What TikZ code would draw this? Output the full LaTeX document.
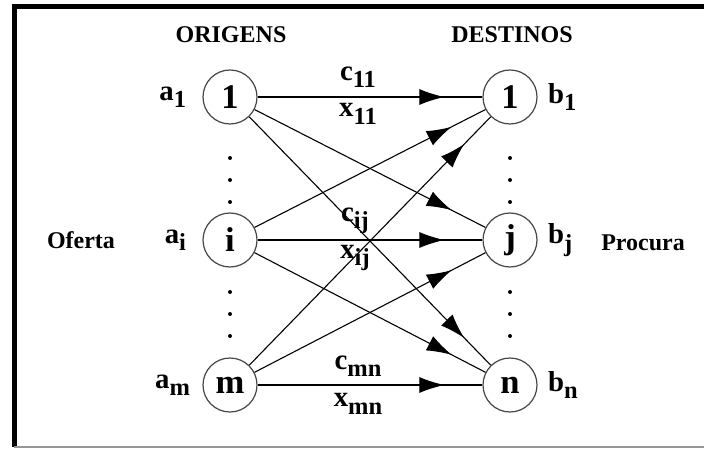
\documentclass[tikz,border=0pt]{standalone}
\usepackage{fontspec}
\setmainfont{Liberation Serif}
\usetikzlibrary{arrows.meta,decorations.markings,positioning}
\definecolor{FrameGray}{RGB}{150,150,150}
\definecolor{RingGray}{RGB}{70,70,70}
\newcommand{\sub}[2]{#1\raisebox{-0.55ex}{\scalebox{0.85}{#2}}}

\begin{document}
\begin{tikzpicture}[x=0.5pt,y=-0.5pt,
  place/.style={circle,draw=RingGray,line width=0.6pt,minimum size=27pt,
    inner sep=0pt,font=\bfseries\LARGE},
  lbl/.style={font=\bfseries\Large,inner sep=1pt},
  head/.style={font=\bfseries\large},
  flow/.style={line width=0.55pt,postaction={decorate},
    decoration={markings,mark=at position -19pt with
      {\arrow{Latex[length=12.5pt,width=8pt]}}}}]
  \useasboundingbox (0,0) rectangle (704,448);
  % frame
  \draw[line width=2.5pt] (704,7)--(14.5,7)--(14.5,447);
  \draw[FrameGray,line width=1pt] (14,447)--(704,447);
  % headings
  \node[head] (orig) at (231,35) {ORIGENS};
  \node[head] (dest) at (512,35) {DESTINOS};
  \node[head] (ofer) at (81,240) {Oferta};
  \node[head] (proc) at (643,243) {Procura};
  % origins and destinations
  \node[place] (o1) at (230,97) {1};
  \node[place] (oi) at (230,240) {i};
  \node[place] (om) at (230,385) {m};
  \node[place] (d1) at (510,97) {1};
  \node[place] (dj) at (510,240) {j};
  \node[place] (dn) at (510,385) {n};
  % supplies and demands
  \node[lbl,left=7pt of o1] (a1) {\sub{a}{1}};
  \node[lbl,left=7pt of oi] (ai) {\sub{a}{i}};
  \node[lbl,left=5pt of om] (am) {\sub{a}{m}};
  \node[lbl,right=4pt of d1] (b1) {\sub{b}{1}};
  \node[lbl,right=4pt of dj] (bj) {\sub{b}{j}};
  \node[lbl,right=4pt of dn] (bn) {\sub{b}{n}};
  % arcs
  \foreach \s in {o1,oi,om}
    \foreach \t in {d1,dj,dn}
      \draw[flow] (\s)--(\t);
  % costs and flows
  \node[lbl] (c11) at (358,77) {\sub{c}{11}};
  \node[lbl] (x11) at (358,114) {\sub{x}{11}};
  \node[lbl] (cij) at (355,221) {\sub{c}{ij}};
  \node[lbl] (xij) at (355,258) {\sub{x}{ij}};
  \node[lbl] (cmn) at (358,366) {\sub{c}{mn}};
  \node[lbl] (xmn) at (358,404) {\sub{x}{mn}};
  % dots
  \foreach \x in {230,510}
    \foreach \y in {158,180,202,292,314,336}
      \fill (\x,\y) circle (1pt);
\end{tikzpicture}
\end{document}
